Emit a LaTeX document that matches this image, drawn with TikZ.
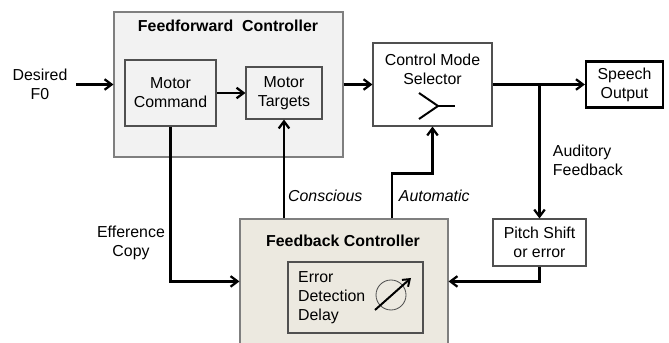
\documentclass[tikz,border=0pt]{standalone}
\usepackage{fontspec}
\setmainfont{Liberation Sans}
\usetikzlibrary{positioning,arrows.meta,calc}
\definecolor{ffgray}{HTML}{F2F2F2}
\definecolor{fbbeige}{HTML}{ECE9E0}
\definecolor{edgegray}{HTML}{7F7F7F}
\definecolor{innergray}{HTML}{505050}

\tikzset{
  txt/.style={font=\fontsize{11.3}{13.5}\selectfont, align=center},
  ctrlbox/.style={draw=edgegray, line width=0.8pt},
  subbox/.style={draw=innergray, line width=0.8pt, fill=ffgray},
  plainbox/.style={draw=innergray, line width=0.8pt, fill=white},
  arr/.style={line width=1.6pt, -{Straight Barb[length=5pt,width=7.5pt]}}
}

\begin{document}
\begin{tikzpicture}
  \useasboundingbox (0,0) rectangle (16.725,8.55);

  % controllers
  \node[ctrlbox, fill=ffgray, minimum width=5.725cm, minimum height=3.625cm]
    (ff) at (5.7125,6.4375) {};
  \node[txt, font=\fontsize{11.3}{13.5}\selectfont\bfseries] (fftitle) at (5.7,7.9)
    {Feedforward\ \ Controller};
  \node[ctrlbox, fill=fbbeige, minimum width=5.2cm, minimum height=3.5cm]
    (fb) at (8.6,1.325) {};
  \node[txt, font=\fontsize{11.3}{13.5}\selectfont\bfseries] (fbtitle) at (8.575,2.525)
    {Feedback Controller};
  \coordinate (fbmid) at ($(fb.north)+(0,-1.575)$);

  % inner blocks
  \node[subbox, txt, minimum width=2.275cm, minimum height=1.65cm]
    (mc) at (4.2625,6.225) {Motor\\Command};
  \node[subbox, txt, minimum width=1.9cm, minimum height=1.3cm]
    (mt) at (7.1,6.225) {Motor\\Targets};
  \node[subbox, fill=fbbeige, minimum width=3.375cm, minimum height=1.775cm]
    (edd) at (8.8875,1.1125) {};
  \node[txt, align=left, anchor=west] (eddtext) at (7.33,1.1)
    {Error\\Detection\\Delay};

  % delay dial
  \draw[line width=0.6pt, draw=innergray] (9.775,1.175) circle (0.375);
  \draw[line width=1.4pt, -{Straight Barb[length=4.5pt,width=6.5pt]}]
    (9.375,0.8) -- (10.275,1.6);

  % selector and output
  \node[plainbox, minimum width=2.975cm, minimum height=2.075cm]
    (cms) at (10.8125,6.4375) {};
  \node[txt, below=5pt of cms.north] (cmstext) {Control Mode\\Selector};
  \draw[line width=1.4pt] ($(cms.center)+(-0.3375,-0.2125)$)
    -- ($(cms.center)+(0.1375,-0.5375)$)
    -- ($(cms.center)+(-0.3375,-0.8625)$);
  \draw[line width=1.4pt] ($(cms.center)+(0.1375,-0.5375)$)
    -- ($(cms.center)+(0.5625,-0.5375)$);
  \node[txt, draw=black, line width=1.6pt, fill=white,
    minimum width=1.925cm, minimum height=1.15cm]
    (so) at (15.6125,6.4375) {Speech\\Output};
  \node[plainbox, txt, minimum width=2.325cm, minimum height=1.175cm]
    (ps) at (13.4875,2.4875) {Pitch Shift\\or error};

  % labels
  \node[txt] (desired) at (1.0,6.4375) {Desired\\F0};
  \node[txt] (effcopy) at (3.275,2.475) {Efference\\Copy};
  \node[txt, align=left, anchor=west] (audfb) at (13.7,4.55) {Auditory\\Feedback};
  \node[txt, anchor=west, font=\fontsize{11.3}{13.5}\selectfont\itshape]
    (consc) at (7.08,3.65) {Conscious};
  \node[txt, anchor=west, font=\fontsize{11.3}{13.5}\selectfont\itshape]
    (auto) at (9.85,3.65) {Automatic};

  % connections
  \coordinate (branch) at (ps.north |- cms.east);
  \coordinate (autoknee) at ($(cms.south)+(0,-1.175)$);
  \draw[arr] ($(desired.east)+(0.1,0)$) -- (desired.east -| ff.west);
  \draw[arr] (mc) -- (mt);
  \draw[arr] (ff.east) -- (cms.west);
  \draw[arr] (cms.east) -- (so.west);
  \draw[arr] (branch) -- (ps.north);
  \draw[arr] (ps.south) |- (fbmid -| fb.east);
  \draw[arr] (mc.south) |- (fbmid -| fb.west);
  \draw[arr] (fb.north -| mt.south) -- (mt.south);
  \draw[arr] ($(fb.north)+(1.2,0)$) |- (autoknee) -- (cms.south);
\end{tikzpicture}
\end{document}
